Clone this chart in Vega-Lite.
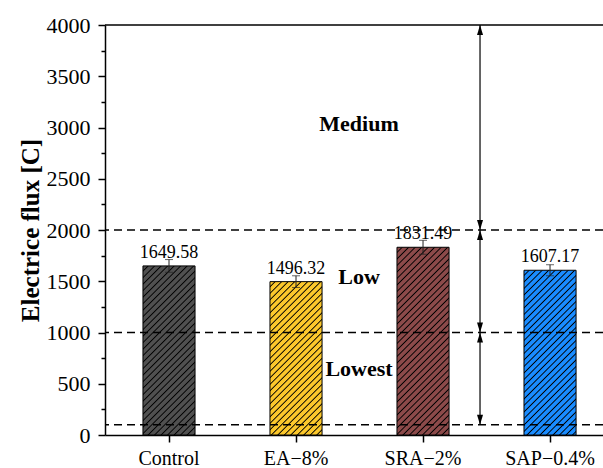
{
"$schema": "https://vega.github.io/schema/vega-lite/v6.json",
"width": 498, "height": 410,
"autosize": {"type": "none"},
"padding": {"left": 105, "top": 25, "right": 0, "bottom": 33},
"background": "white",
"config": {"view": {"stroke": null}, "font": "Liberation Serif"},
"data": {"values": [
 {"cat": "Control", "value": 1649.58, "err": 62},
 {"cat": "EA−8%", "value": 1496.32, "err": 57},
 {"cat": "SRA−2%", "value": 1831.49, "err": 68},
 {"cat": "SAP−0.4%", "value": 1607.17, "err": 54}
]},
"resolve": {"axis": {"y": "independent"}},
"layer": [
 {
  "mark": {"type": "bar", "stroke": "#000", "strokeWidth": 1},
  "encoding": {
   "x": {"field": "cat", "type": "nominal", "sort": null,
     "scale": {"type": "band", "paddingInner": 0.59, "paddingOuter": 0.2555, "align": 0.585},
     "axis": {"title": null, "labelAngle": 0, "labelFont": "Liberation Serif", "labelFontSize": 20, "labelColor": "#000", "tickSize": 7, "tickWidth": 1.5, "tickColor": "#000", "domainColor": "#000", "domainWidth": 1.5, "labelPadding": 6}},
   "y": {"field": "value", "type": "quantitative",
     "scale": {"domain": [0, 4000], "nice": false, "zero": true},
     "axis": {"title": "Electrice flux [C]", "format": "d", "values": [0,500,1000,1500,2000,2500,3000,3500,4000], "grid": false, "labelFont": "Liberation Serif", "labelFontSize": 22, "labelColor": "#000", "tickSize": 7, "tickWidth": 1.5, "tickColor": "#000", "domainColor": "#000", "domainWidth": 1.5, "labelPadding": 8, "titleFont": "Liberation Serif", "titleFontSize": 25, "titleFontWeight": "bold", "titleColor": "#000", "titlePadding": 3}},
   "fill": {"condition": [
    {"test": "datum.cat === 'Control'", "value": {"gradient": "linear", "x1": 0, "y1": 0, "x2": 0.4325, "y2": 1.4045, "stops": [
{"offset":0,"color":"#505050"},{"offset":0.015,"color":"#505050"},{"offset":0.02,"color":"#000"},
{"offset":0.025,"color":"#505050"},{"offset":0.04,"color":"#505050"},{"offset":0.045,"color":"#000"},
{"offset":0.05,"color":"#505050"},{"offset":0.065,"color":"#505050"},{"offset":0.07,"color":"#000"},
{"offset":0.075,"color":"#505050"},{"offset":0.09,"color":"#505050"},{"offset":0.095,"color":"#000"},
{"offset":0.1,"color":"#505050"},{"offset":0.115,"color":"#505050"},{"offset":0.12,"color":"#000"},
{"offset":0.125,"color":"#505050"},{"offset":0.14,"color":"#505050"},{"offset":0.145,"color":"#000"},
{"offset":0.15,"color":"#505050"},{"offset":0.165,"color":"#505050"},{"offset":0.17,"color":"#000"},
{"offset":0.175,"color":"#505050"},{"offset":0.19,"color":"#505050"},{"offset":0.195,"color":"#000"},
{"offset":0.2,"color":"#505050"},{"offset":0.215,"color":"#505050"},{"offset":0.22,"color":"#000"},
{"offset":0.225,"color":"#505050"},{"offset":0.24,"color":"#505050"},{"offset":0.245,"color":"#000"},
{"offset":0.25,"color":"#505050"},{"offset":0.265,"color":"#505050"},{"offset":0.27,"color":"#000"},
{"offset":0.275,"color":"#505050"},{"offset":0.29,"color":"#505050"},{"offset":0.295,"color":"#000"},
{"offset":0.3,"color":"#505050"},{"offset":0.315,"color":"#505050"},{"offset":0.32,"color":"#000"},
{"offset":0.325,"color":"#505050"},{"offset":0.34,"color":"#505050"},{"offset":0.345,"color":"#000"},
{"offset":0.35,"color":"#505050"},{"offset":0.365,"color":"#505050"},{"offset":0.37,"color":"#000"},
{"offset":0.375,"color":"#505050"},{"offset":0.39,"color":"#505050"},{"offset":0.395,"color":"#000"},
{"offset":0.4,"color":"#505050"},{"offset":0.415,"color":"#505050"},{"offset":0.42,"color":"#000"},
{"offset":0.425,"color":"#505050"},{"offset":0.44,"color":"#505050"},{"offset":0.445,"color":"#000"},
{"offset":0.45,"color":"#505050"},{"offset":0.465,"color":"#505050"},{"offset":0.47,"color":"#000"},
{"offset":0.475,"color":"#505050"},{"offset":0.49,"color":"#505050"},{"offset":0.495,"color":"#000"},
{"offset":0.5,"color":"#505050"},{"offset":0.515,"color":"#505050"},{"offset":0.52,"color":"#000"},
{"offset":0.525,"color":"#505050"},{"offset":0.54,"color":"#505050"},{"offset":0.545,"color":"#000"},
{"offset":0.55,"color":"#505050"},{"offset":0.565,"color":"#505050"},{"offset":0.57,"color":"#000"},
{"offset":0.575,"color":"#505050"},{"offset":0.59,"color":"#505050"},{"offset":0.595,"color":"#000"},
{"offset":0.6,"color":"#505050"},{"offset":0.615,"color":"#505050"},{"offset":0.62,"color":"#000"},
{"offset":0.625,"color":"#505050"},{"offset":0.64,"color":"#505050"},{"offset":0.645,"color":"#000"},
{"offset":0.65,"color":"#505050"},{"offset":0.665,"color":"#505050"},{"offset":0.67,"color":"#000"},
{"offset":0.675,"color":"#505050"},{"offset":0.69,"color":"#505050"},{"offset":0.695,"color":"#000"},
{"offset":0.7,"color":"#505050"},{"offset":0.715,"color":"#505050"},{"offset":0.72,"color":"#000"},
{"offset":0.725,"color":"#505050"},{"offset":0.74,"color":"#505050"},{"offset":0.745,"color":"#000"},
{"offset":0.75,"color":"#505050"},{"offset":0.765,"color":"#505050"},{"offset":0.77,"color":"#000"},
{"offset":0.775,"color":"#505050"},{"offset":0.79,"color":"#505050"},{"offset":0.795,"color":"#000"},
{"offset":0.8,"color":"#505050"},{"offset":0.815,"color":"#505050"},{"offset":0.82,"color":"#000"},
{"offset":0.825,"color":"#505050"},{"offset":0.84,"color":"#505050"},{"offset":0.845,"color":"#000"},
{"offset":0.85,"color":"#505050"},{"offset":0.865,"color":"#505050"},{"offset":0.87,"color":"#000"},
{"offset":0.875,"color":"#505050"},{"offset":0.89,"color":"#505050"},{"offset":0.895,"color":"#000"},
{"offset":0.9,"color":"#505050"},{"offset":0.915,"color":"#505050"},{"offset":0.92,"color":"#000"},
{"offset":0.925,"color":"#505050"},{"offset":0.94,"color":"#505050"},{"offset":0.945,"color":"#000"},
{"offset":0.95,"color":"#505050"},{"offset":0.965,"color":"#505050"},{"offset":0.97,"color":"#000"},
{"offset":0.975,"color":"#505050"},{"offset":0.99,"color":"#505050"},{"offset":0.995,"color":"#000"},
{"offset":1,"color":"#505050"}]}},
    {"test": "datum.cat === 'EA−8%'", "value": {"gradient": "linear", "x1": 0, "y1": 0, "x2": 0.5161, "y2": 1.52, "stops": [
{"offset":0,"color":"#fcc82c"},{"offset":0.015,"color":"#fcc82c"},{"offset":0.02,"color":"#000"},
{"offset":0.025,"color":"#fcc82c"},{"offset":0.04,"color":"#fcc82c"},{"offset":0.045,"color":"#000"},
{"offset":0.05,"color":"#fcc82c"},{"offset":0.065,"color":"#fcc82c"},{"offset":0.07,"color":"#000"},
{"offset":0.075,"color":"#fcc82c"},{"offset":0.09,"color":"#fcc82c"},{"offset":0.095,"color":"#000"},
{"offset":0.1,"color":"#fcc82c"},{"offset":0.115,"color":"#fcc82c"},{"offset":0.12,"color":"#000"},
{"offset":0.125,"color":"#fcc82c"},{"offset":0.14,"color":"#fcc82c"},{"offset":0.145,"color":"#000"},
{"offset":0.15,"color":"#fcc82c"},{"offset":0.165,"color":"#fcc82c"},{"offset":0.17,"color":"#000"},
{"offset":0.175,"color":"#fcc82c"},{"offset":0.19,"color":"#fcc82c"},{"offset":0.195,"color":"#000"},
{"offset":0.2,"color":"#fcc82c"},{"offset":0.215,"color":"#fcc82c"},{"offset":0.22,"color":"#000"},
{"offset":0.225,"color":"#fcc82c"},{"offset":0.24,"color":"#fcc82c"},{"offset":0.245,"color":"#000"},
{"offset":0.25,"color":"#fcc82c"},{"offset":0.265,"color":"#fcc82c"},{"offset":0.27,"color":"#000"},
{"offset":0.275,"color":"#fcc82c"},{"offset":0.29,"color":"#fcc82c"},{"offset":0.295,"color":"#000"},
{"offset":0.3,"color":"#fcc82c"},{"offset":0.315,"color":"#fcc82c"},{"offset":0.32,"color":"#000"},
{"offset":0.325,"color":"#fcc82c"},{"offset":0.34,"color":"#fcc82c"},{"offset":0.345,"color":"#000"},
{"offset":0.35,"color":"#fcc82c"},{"offset":0.365,"color":"#fcc82c"},{"offset":0.37,"color":"#000"},
{"offset":0.375,"color":"#fcc82c"},{"offset":0.39,"color":"#fcc82c"},{"offset":0.395,"color":"#000"},
{"offset":0.4,"color":"#fcc82c"},{"offset":0.415,"color":"#fcc82c"},{"offset":0.42,"color":"#000"},
{"offset":0.425,"color":"#fcc82c"},{"offset":0.44,"color":"#fcc82c"},{"offset":0.445,"color":"#000"},
{"offset":0.45,"color":"#fcc82c"},{"offset":0.465,"color":"#fcc82c"},{"offset":0.47,"color":"#000"},
{"offset":0.475,"color":"#fcc82c"},{"offset":0.49,"color":"#fcc82c"},{"offset":0.495,"color":"#000"},
{"offset":0.5,"color":"#fcc82c"},{"offset":0.515,"color":"#fcc82c"},{"offset":0.52,"color":"#000"},
{"offset":0.525,"color":"#fcc82c"},{"offset":0.54,"color":"#fcc82c"},{"offset":0.545,"color":"#000"},
{"offset":0.55,"color":"#fcc82c"},{"offset":0.565,"color":"#fcc82c"},{"offset":0.57,"color":"#000"},
{"offset":0.575,"color":"#fcc82c"},{"offset":0.59,"color":"#fcc82c"},{"offset":0.595,"color":"#000"},
{"offset":0.6,"color":"#fcc82c"},{"offset":0.615,"color":"#fcc82c"},{"offset":0.62,"color":"#000"},
{"offset":0.625,"color":"#fcc82c"},{"offset":0.64,"color":"#fcc82c"},{"offset":0.645,"color":"#000"},
{"offset":0.65,"color":"#fcc82c"},{"offset":0.665,"color":"#fcc82c"},{"offset":0.67,"color":"#000"},
{"offset":0.675,"color":"#fcc82c"},{"offset":0.69,"color":"#fcc82c"},{"offset":0.695,"color":"#000"},
{"offset":0.7,"color":"#fcc82c"},{"offset":0.715,"color":"#fcc82c"},{"offset":0.72,"color":"#000"},
{"offset":0.725,"color":"#fcc82c"},{"offset":0.74,"color":"#fcc82c"},{"offset":0.745,"color":"#000"},
{"offset":0.75,"color":"#fcc82c"},{"offset":0.765,"color":"#fcc82c"},{"offset":0.77,"color":"#000"},
{"offset":0.775,"color":"#fcc82c"},{"offset":0.79,"color":"#fcc82c"},{"offset":0.795,"color":"#000"},
{"offset":0.8,"color":"#fcc82c"},{"offset":0.815,"color":"#fcc82c"},{"offset":0.82,"color":"#000"},
{"offset":0.825,"color":"#fcc82c"},{"offset":0.84,"color":"#fcc82c"},{"offset":0.845,"color":"#000"},
{"offset":0.85,"color":"#fcc82c"},{"offset":0.865,"color":"#fcc82c"},{"offset":0.87,"color":"#000"},
{"offset":0.875,"color":"#fcc82c"},{"offset":0.89,"color":"#fcc82c"},{"offset":0.895,"color":"#000"},
{"offset":0.9,"color":"#fcc82c"},{"offset":0.915,"color":"#fcc82c"},{"offset":0.92,"color":"#000"},
{"offset":0.925,"color":"#fcc82c"},{"offset":0.94,"color":"#fcc82c"},{"offset":0.945,"color":"#000"},
{"offset":0.95,"color":"#fcc82c"},{"offset":0.965,"color":"#fcc82c"},{"offset":0.97,"color":"#000"},
{"offset":0.975,"color":"#fcc82c"},{"offset":0.99,"color":"#fcc82c"},{"offset":0.995,"color":"#000"},
{"offset":1,"color":"#fcc82c"}]}},
    {"test": "datum.cat === 'SRA−2%'", "value": {"gradient": "linear", "x1": 0, "y1": 0, "x2": 0.3567, "y2": 1.286, "stops": [
{"offset":0,"color":"#8c4a4a"},{"offset":0.015,"color":"#8c4a4a"},{"offset":0.02,"color":"#000"},
{"offset":0.025,"color":"#8c4a4a"},{"offset":0.04,"color":"#8c4a4a"},{"offset":0.045,"color":"#000"},
{"offset":0.05,"color":"#8c4a4a"},{"offset":0.065,"color":"#8c4a4a"},{"offset":0.07,"color":"#000"},
{"offset":0.075,"color":"#8c4a4a"},{"offset":0.09,"color":"#8c4a4a"},{"offset":0.095,"color":"#000"},
{"offset":0.1,"color":"#8c4a4a"},{"offset":0.115,"color":"#8c4a4a"},{"offset":0.12,"color":"#000"},
{"offset":0.125,"color":"#8c4a4a"},{"offset":0.14,"color":"#8c4a4a"},{"offset":0.145,"color":"#000"},
{"offset":0.15,"color":"#8c4a4a"},{"offset":0.165,"color":"#8c4a4a"},{"offset":0.17,"color":"#000"},
{"offset":0.175,"color":"#8c4a4a"},{"offset":0.19,"color":"#8c4a4a"},{"offset":0.195,"color":"#000"},
{"offset":0.2,"color":"#8c4a4a"},{"offset":0.215,"color":"#8c4a4a"},{"offset":0.22,"color":"#000"},
{"offset":0.225,"color":"#8c4a4a"},{"offset":0.24,"color":"#8c4a4a"},{"offset":0.245,"color":"#000"},
{"offset":0.25,"color":"#8c4a4a"},{"offset":0.265,"color":"#8c4a4a"},{"offset":0.27,"color":"#000"},
{"offset":0.275,"color":"#8c4a4a"},{"offset":0.29,"color":"#8c4a4a"},{"offset":0.295,"color":"#000"},
{"offset":0.3,"color":"#8c4a4a"},{"offset":0.315,"color":"#8c4a4a"},{"offset":0.32,"color":"#000"},
{"offset":0.325,"color":"#8c4a4a"},{"offset":0.34,"color":"#8c4a4a"},{"offset":0.345,"color":"#000"},
{"offset":0.35,"color":"#8c4a4a"},{"offset":0.365,"color":"#8c4a4a"},{"offset":0.37,"color":"#000"},
{"offset":0.375,"color":"#8c4a4a"},{"offset":0.39,"color":"#8c4a4a"},{"offset":0.395,"color":"#000"},
{"offset":0.4,"color":"#8c4a4a"},{"offset":0.415,"color":"#8c4a4a"},{"offset":0.42,"color":"#000"},
{"offset":0.425,"color":"#8c4a4a"},{"offset":0.44,"color":"#8c4a4a"},{"offset":0.445,"color":"#000"},
{"offset":0.45,"color":"#8c4a4a"},{"offset":0.465,"color":"#8c4a4a"},{"offset":0.47,"color":"#000"},
{"offset":0.475,"color":"#8c4a4a"},{"offset":0.49,"color":"#8c4a4a"},{"offset":0.495,"color":"#000"},
{"offset":0.5,"color":"#8c4a4a"},{"offset":0.515,"color":"#8c4a4a"},{"offset":0.52,"color":"#000"},
{"offset":0.525,"color":"#8c4a4a"},{"offset":0.54,"color":"#8c4a4a"},{"offset":0.545,"color":"#000"},
{"offset":0.55,"color":"#8c4a4a"},{"offset":0.565,"color":"#8c4a4a"},{"offset":0.57,"color":"#000"},
{"offset":0.575,"color":"#8c4a4a"},{"offset":0.59,"color":"#8c4a4a"},{"offset":0.595,"color":"#000"},
{"offset":0.6,"color":"#8c4a4a"},{"offset":0.615,"color":"#8c4a4a"},{"offset":0.62,"color":"#000"},
{"offset":0.625,"color":"#8c4a4a"},{"offset":0.64,"color":"#8c4a4a"},{"offset":0.645,"color":"#000"},
{"offset":0.65,"color":"#8c4a4a"},{"offset":0.665,"color":"#8c4a4a"},{"offset":0.67,"color":"#000"},
{"offset":0.675,"color":"#8c4a4a"},{"offset":0.69,"color":"#8c4a4a"},{"offset":0.695,"color":"#000"},
{"offset":0.7,"color":"#8c4a4a"},{"offset":0.715,"color":"#8c4a4a"},{"offset":0.72,"color":"#000"},
{"offset":0.725,"color":"#8c4a4a"},{"offset":0.74,"color":"#8c4a4a"},{"offset":0.745,"color":"#000"},
{"offset":0.75,"color":"#8c4a4a"},{"offset":0.765,"color":"#8c4a4a"},{"offset":0.77,"color":"#000"},
{"offset":0.775,"color":"#8c4a4a"},{"offset":0.79,"color":"#8c4a4a"},{"offset":0.795,"color":"#000"},
{"offset":0.8,"color":"#8c4a4a"},{"offset":0.815,"color":"#8c4a4a"},{"offset":0.82,"color":"#000"},
{"offset":0.825,"color":"#8c4a4a"},{"offset":0.84,"color":"#8c4a4a"},{"offset":0.845,"color":"#000"},
{"offset":0.85,"color":"#8c4a4a"},{"offset":0.865,"color":"#8c4a4a"},{"offset":0.87,"color":"#000"},
{"offset":0.875,"color":"#8c4a4a"},{"offset":0.89,"color":"#8c4a4a"},{"offset":0.895,"color":"#000"},
{"offset":0.9,"color":"#8c4a4a"},{"offset":0.915,"color":"#8c4a4a"},{"offset":0.92,"color":"#000"},
{"offset":0.925,"color":"#8c4a4a"},{"offset":0.94,"color":"#8c4a4a"},{"offset":0.945,"color":"#000"},
{"offset":0.95,"color":"#8c4a4a"},{"offset":0.965,"color":"#8c4a4a"},{"offset":0.97,"color":"#000"},
{"offset":0.975,"color":"#8c4a4a"},{"offset":0.99,"color":"#8c4a4a"},{"offset":0.995,"color":"#000"},
{"offset":1,"color":"#8c4a4a"}]}},
    {"test": "datum.cat === 'SAP−0.4%'", "value": {"gradient": "linear", "x1": 0, "y1": 0, "x2": 0.4536, "y2": 1.435, "stops": [
{"offset":0,"color":"#1a8cff"},{"offset":0.015,"color":"#1a8cff"},{"offset":0.02,"color":"#000"},
{"offset":0.025,"color":"#1a8cff"},{"offset":0.04,"color":"#1a8cff"},{"offset":0.045,"color":"#000"},
{"offset":0.05,"color":"#1a8cff"},{"offset":0.065,"color":"#1a8cff"},{"offset":0.07,"color":"#000"},
{"offset":0.075,"color":"#1a8cff"},{"offset":0.09,"color":"#1a8cff"},{"offset":0.095,"color":"#000"},
{"offset":0.1,"color":"#1a8cff"},{"offset":0.115,"color":"#1a8cff"},{"offset":0.12,"color":"#000"},
{"offset":0.125,"color":"#1a8cff"},{"offset":0.14,"color":"#1a8cff"},{"offset":0.145,"color":"#000"},
{"offset":0.15,"color":"#1a8cff"},{"offset":0.165,"color":"#1a8cff"},{"offset":0.17,"color":"#000"},
{"offset":0.175,"color":"#1a8cff"},{"offset":0.19,"color":"#1a8cff"},{"offset":0.195,"color":"#000"},
{"offset":0.2,"color":"#1a8cff"},{"offset":0.215,"color":"#1a8cff"},{"offset":0.22,"color":"#000"},
{"offset":0.225,"color":"#1a8cff"},{"offset":0.24,"color":"#1a8cff"},{"offset":0.245,"color":"#000"},
{"offset":0.25,"color":"#1a8cff"},{"offset":0.265,"color":"#1a8cff"},{"offset":0.27,"color":"#000"},
{"offset":0.275,"color":"#1a8cff"},{"offset":0.29,"color":"#1a8cff"},{"offset":0.295,"color":"#000"},
{"offset":0.3,"color":"#1a8cff"},{"offset":0.315,"color":"#1a8cff"},{"offset":0.32,"color":"#000"},
{"offset":0.325,"color":"#1a8cff"},{"offset":0.34,"color":"#1a8cff"},{"offset":0.345,"color":"#000"},
{"offset":0.35,"color":"#1a8cff"},{"offset":0.365,"color":"#1a8cff"},{"offset":0.37,"color":"#000"},
{"offset":0.375,"color":"#1a8cff"},{"offset":0.39,"color":"#1a8cff"},{"offset":0.395,"color":"#000"},
{"offset":0.4,"color":"#1a8cff"},{"offset":0.415,"color":"#1a8cff"},{"offset":0.42,"color":"#000"},
{"offset":0.425,"color":"#1a8cff"},{"offset":0.44,"color":"#1a8cff"},{"offset":0.445,"color":"#000"},
{"offset":0.45,"color":"#1a8cff"},{"offset":0.465,"color":"#1a8cff"},{"offset":0.47,"color":"#000"},
{"offset":0.475,"color":"#1a8cff"},{"offset":0.49,"color":"#1a8cff"},{"offset":0.495,"color":"#000"},
{"offset":0.5,"color":"#1a8cff"},{"offset":0.515,"color":"#1a8cff"},{"offset":0.52,"color":"#000"},
{"offset":0.525,"color":"#1a8cff"},{"offset":0.54,"color":"#1a8cff"},{"offset":0.545,"color":"#000"},
{"offset":0.55,"color":"#1a8cff"},{"offset":0.565,"color":"#1a8cff"},{"offset":0.57,"color":"#000"},
{"offset":0.575,"color":"#1a8cff"},{"offset":0.59,"color":"#1a8cff"},{"offset":0.595,"color":"#000"},
{"offset":0.6,"color":"#1a8cff"},{"offset":0.615,"color":"#1a8cff"},{"offset":0.62,"color":"#000"},
{"offset":0.625,"color":"#1a8cff"},{"offset":0.64,"color":"#1a8cff"},{"offset":0.645,"color":"#000"},
{"offset":0.65,"color":"#1a8cff"},{"offset":0.665,"color":"#1a8cff"},{"offset":0.67,"color":"#000"},
{"offset":0.675,"color":"#1a8cff"},{"offset":0.69,"color":"#1a8cff"},{"offset":0.695,"color":"#000"},
{"offset":0.7,"color":"#1a8cff"},{"offset":0.715,"color":"#1a8cff"},{"offset":0.72,"color":"#000"},
{"offset":0.725,"color":"#1a8cff"},{"offset":0.74,"color":"#1a8cff"},{"offset":0.745,"color":"#000"},
{"offset":0.75,"color":"#1a8cff"},{"offset":0.765,"color":"#1a8cff"},{"offset":0.77,"color":"#000"},
{"offset":0.775,"color":"#1a8cff"},{"offset":0.79,"color":"#1a8cff"},{"offset":0.795,"color":"#000"},
{"offset":0.8,"color":"#1a8cff"},{"offset":0.815,"color":"#1a8cff"},{"offset":0.82,"color":"#000"},
{"offset":0.825,"color":"#1a8cff"},{"offset":0.84,"color":"#1a8cff"},{"offset":0.845,"color":"#000"},
{"offset":0.85,"color":"#1a8cff"},{"offset":0.865,"color":"#1a8cff"},{"offset":0.87,"color":"#000"},
{"offset":0.875,"color":"#1a8cff"},{"offset":0.89,"color":"#1a8cff"},{"offset":0.895,"color":"#000"},
{"offset":0.9,"color":"#1a8cff"},{"offset":0.915,"color":"#1a8cff"},{"offset":0.92,"color":"#000"},
{"offset":0.925,"color":"#1a8cff"},{"offset":0.94,"color":"#1a8cff"},{"offset":0.945,"color":"#000"},
{"offset":0.95,"color":"#1a8cff"},{"offset":0.965,"color":"#1a8cff"},{"offset":0.97,"color":"#000"},
{"offset":0.975,"color":"#1a8cff"},{"offset":0.99,"color":"#1a8cff"},{"offset":0.995,"color":"#000"},
{"offset":1,"color":"#1a8cff"}]}}
   ], "value": "#888888"}
  }
 },
 {
  "mark": {"type": "errorbar", "ticks": {"size": 8, "color": "#222", "thickness": 1}, "rule": {"color": "#222", "strokeWidth": 1}},
  "encoding": {
   "x": {"field": "cat", "type": "nominal", "sort": null},
   "y": {"field": "value", "type": "quantitative", "axis": null},
   "yError": {"field": "err"}
  }
 },
 {
  "mark": {"type": "text", "font": "Liberation Serif", "fontSize": 18, "color": "#000", "baseline": "alphabetic", "dy": -8},
  "encoding": {
   "x": {"field": "cat", "type": "nominal", "sort": null},
   "y": {"field": "value", "type": "quantitative", "axis": null},
   "text": {"field": "value", "type": "quantitative", "format": ".2f"}
  }
 },
 {
  "data": {"values": [{"level": 100}, {"level": 1000}, {"level": 2000}]},
  "mark": {"type": "rule", "color": "#000", "strokeWidth": 1.5, "strokeDash": [8, 5]},
  "encoding": {
   "y": {"field": "level", "type": "quantitative",
     "axis": {"values": [250,750,1250,1750,2250,2750,3250,3750], "orient": "left", "labels": false, "domain": false, "grid": false, "title": null, "tickSize": 4, "tickWidth": 1.5, "tickColor": "#000"}}
  }
 },
 {
  "data": {"values": [{"level": 4000}]},
  "mark": {"type": "rule", "color": "#000", "strokeWidth": 1.5},
  "encoding": {"y": {"field": "level", "type": "quantitative", "axis": null}}
 },
 {
  "data": {"values": [{"from": 100, "to": 4000}]},
  "mark": {"type": "rule", "color": "#000", "strokeWidth": 1.2, "xOffset": 57},
  "encoding": {
   "x": {"datum": "SRA−2%", "type": "nominal"},
   "y": {"field": "from", "type": "quantitative", "axis": null},
   "y2": {"field": "to"}
  }
 },
 {
  "data": {"values": [{"tip": 4000}, {"tip": 2000}, {"tip": 1000}]},
  "mark": {"type": "point", "filled": true, "color": "#000", "opacity": 1, "size": 400, "shape": "M0,0L0.3,1L-0.3,1Z", "xOffset": 57},
  "encoding": {
   "x": {"datum": "SRA−2%", "type": "nominal"},
   "y": {"field": "tip", "type": "quantitative", "axis": null}
  }
 },
 {
  "data": {"values": [{"tip": 2000}, {"tip": 1000}, {"tip": 100}]},
  "mark": {"type": "point", "filled": true, "color": "#000", "opacity": 1, "size": 400, "shape": "M0,0L0.3,-1L-0.3,-1Z", "xOffset": 57},
  "encoding": {
   "x": {"datum": "SRA−2%", "type": "nominal"},
   "y": {"field": "tip", "type": "quantitative", "axis": null}
  }
 },
 {
  "data": {"values": [{"label": "Medium", "pos": 3037}, {"label": "Low", "pos": 1537}, {"label": "Lowest", "pos": 644}]},
  "mark": {"type": "text", "font": "Liberation Serif", "fontSize": 22, "fontWeight": "bold", "color": "#000", "baseline": "middle", "align": "center", "dx": 63},
  "encoding": {
   "x": {"datum": "EA−8%", "type": "nominal"},
   "y": {"field": "pos", "type": "quantitative", "axis": null},
   "text": {"field": "label"}
  }
 }
]
}
